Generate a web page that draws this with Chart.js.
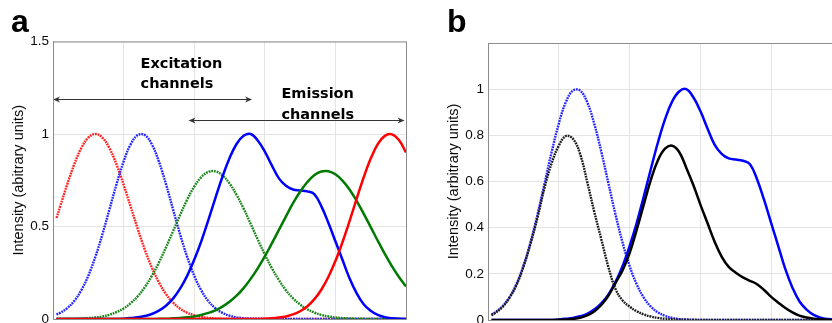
<!DOCTYPE html>
<html>
<head>
<meta charset="utf-8">
<script src="https://cdn.jsdelivr.net/npm/chart.js@4.4.0/dist/chart.umd.min.js"></script>
<style>
html, body { margin: 0; padding: 0; background: #fff; overflow: hidden; width: 832px; height: 323px; }
.panel { position: absolute; top: 0; }
#wrapA { left: 0; }
#wrapB { left: 440px; }
</style>
</head>
<body>
<div id="wrapA" class="panel"><canvas id="chartA" width="416" height="323"></canvas></div>
<div id="wrapB" class="panel"><canvas id="chartB" width="410" height="323"></canvas></div>
<script>
// sample positions along the (unlabelled) x axis
const xs = [0.05, 0.1, 0.2, 0.3, 0.4, 0.5, 0.6, 0.7, 0.8, 0.9, 1.0,
  1.1, 1.2, 1.3, 1.4, 1.5, 1.6, 1.7, 1.8, 1.9, 2.0,
  2.1, 2.2, 2.3, 2.4, 2.5, 2.6, 2.7, 2.8, 2.9, 3.0,
  3.1, 3.2, 3.3, 3.4, 3.5, 3.6, 3.7, 3.8, 3.9, 4.0,
  4.1, 4.2, 4.3, 4.4, 4.5, 4.6, 4.7, 4.8, 4.9, 5.0]

// panel a - excitation (dotted)
const excRed = [0.546, 0.607, 0.726, 0.835, 0.923, 0.980, 1.000, 0.980, 0.923, 0.835, 0.726,
  0.607, 0.487, 0.375, 0.278, 0.198, 0.135, 0.089, 0.056, 0.034, 0.020,
  0.011, 0.006, 0.003, 0.002, 0.001, 0, 0, 0, 0, 0,
  0, 0, 0, 0, 0, 0, 0, 0, 0, 0,
  0, 0, 0, 0, 0, 0, 0, 0, 0, 0]
const excBlue = [0.024, 0.033, 0.058, 0.097, 0.155, 0.234, 0.336, 0.458, 0.593, 0.729, 0.851,
  0.944, 0.994, 0.994, 0.944, 0.851, 0.729, 0.593, 0.458, 0.336, 0.234,
  0.155, 0.097, 0.058, 0.033, 0.018, 0.009, 0.004, 0.002, 0.001, 0,
  0, 0, 0, 0, 0, 0, 0, 0, 0, 0,
  0, 0, 0, 0, 0, 0, 0, 0, 0, 0]
const excGreen = [0, 0, 0.001, 0.001, 0.003, 0.005, 0.008, 0.014, 0.023, 0.037, 0.057,
  0.085, 0.123, 0.172, 0.233, 0.305, 0.387, 0.474, 0.562, 0.645, 0.715,
  0.767, 0.795, 0.798, 0.777, 0.733, 0.671, 0.597, 0.514, 0.430, 0.349,
  0.275, 0.210, 0.155, 0.112, 0.078, 0.053, 0.035, 0.022, 0.014, 0.008,
  0.005, 0.003, 0.002, 0.001, 0, 0, 0, 0, 0, 0]

// panel a - emission (solid)
const emBlue = [0, 0, 0, 0, 0, 0, 0, 0, 0, 0, 0.002,
  0.005, 0.009, 0.016, 0.027, 0.045, 0.072, 0.110, 0.164, 0.233, 0.320,
  0.420, 0.535, 0.654, 0.769, 0.869, 0.946, 0.990, 1.000, 0.965, 0.905,
  0.830, 0.760, 0.720, 0.700, 0.695, 0.690, 0.675, 0.610, 0.520, 0.420,
  0.320, 0.220, 0.140, 0.080, 0.045, 0.022, 0.010, 0.004, 0.001, 0]
const emGreen = [0, 0, 0, 0, 0, 0, 0, 0, 0, 0, 0,
  0, 0, 0, 0, 0.001, 0.002, 0.004, 0.006, 0.009, 0.014,
  0.022, 0.033, 0.047, 0.067, 0.093, 0.126, 0.167, 0.217, 0.274, 0.338,
  0.409, 0.482, 0.555, 0.626, 0.688, 0.739, 0.777, 0.797, 0.799, 0.782,
  0.748, 0.700, 0.639, 0.570, 0.497, 0.423, 0.352, 0.286, 0.227, 0.176]
const emRed = [0, 0, 0, 0, 0, 0, 0, 0, 0, 0, 0,
  0, 0, 0, 0, 0, 0, 0, 0, 0, 0,
  0, 0, 0, 0, 0, 0, 0, 0, 0, 0.002,
  0.004, 0.008, 0.014, 0.025, 0.042, 0.068, 0.106, 0.158, 0.227, 0.313,
  0.415, 0.529, 0.649, 0.765, 0.867, 0.945, 0.990, 0.998, 0.967, 0.900]

// panel b - detected (black), blue curves are the same as panel a
const detExc = [0.020, 0.030, 0.055, 0.095, 0.150, 0.230, 0.330, 0.445, 0.575, 0.680, 0.755,
  0.797, 0.785, 0.720, 0.600, 0.470, 0.350, 0.230, 0.135, 0.085, 0.058,
  0.038, 0.024, 0.015, 0.009, 0.005, 0.003, 0.002, 0.001, 0, 0,
  0, 0, 0, 0, 0, 0, 0, 0, 0, 0,
  0, 0, 0, 0, 0, 0, 0, 0, 0, 0]
const detEm = [0, 0, 0, 0, 0, 0, 0, 0, 0, 0, 0.001,
  0.002, 0.005, 0.010, 0.020, 0.037, 0.065, 0.105, 0.160, 0.215, 0.290,
  0.390, 0.500, 0.607, 0.692, 0.742, 0.755, 0.728, 0.660, 0.585, 0.500,
  0.420, 0.340, 0.275, 0.230, 0.205, 0.185, 0.170, 0.155, 0.130, 0.100,
  0.075, 0.052, 0.033, 0.019, 0.011, 0.006, 0.003, 0.001, 0, 0]

const yTicksA = [0, 0.5, 1, 1.5]
const yTicksB = [0, 0.2, 0.4, 0.6, 0.8, 1]

// arrows + labels on panel a, in data units
const arrows = [
  { from: 0, to: 2.82, y: 1.19 },
  { from: 1.92, to: 4.98, y: 1.076 }
]
const notes = [
  { x: 1.24, y: 1.358, lines: ['Excitation', 'channels'] },
  { x: 3.235, y: 1.193, lines: ['Emission', 'channels'] }
]

Chart.defaults.font.family = "'Liberation Sans', Arial, sans-serif"
Chart.defaults.color = '#0a0a0a'

const GRID = '#e4e4e4'
const FRAME = '#8c8c8c'

function fmt(v) {
  return String(Math.round(v * 10) / 10)
}

function curve(ys, color, dotted) {
  return {
    data: xs.map((x, i) => ({ x: x, y: ys[i] })),
    borderColor: color,
    borderWidth: dotted ? 2.4 : 2.5,
    borderDash: dotted ? [1.8, 0.9] : [],
    pointRadius: 0,
    tension: 0.4,
    fill: false
  }
}

function scales(yMax, step, tickList, title) {
  return {
    x: {
      type: 'linear', min: 0, max: 5,
      ticks: { display: false, stepSize: 1 },
      grid: { color: GRID, drawTicks: false },
      border: { color: FRAME },
      afterFit: s => { s.height = 0; s.paddingLeft = 0; s.paddingRight = 0 }
    },
    y: {
      min: 0, max: yMax,
      ticks: {
        stepSize: step, padding: 4, font: { size: 13.5 },
        callback: v => tickList.some(t => Math.abs(t - v) < 1e-6) ? fmt(v) : ''
      },
      grid: { color: GRID, drawTicks: false },
      border: { color: FRAME },
      title: { display: true, text: title, font: { size: 14.5 }, padding: { top: 4, bottom: 0 } },
      afterFit: s => { s.width = 47; s.paddingTop = 0; s.paddingBottom = 0 }
    }
  }
}

// box around plot + panel letter
function framePlugin(letter, lx) {
  return {
    id: 'frame' + letter,
    afterDraw(chart) {
      const { ctx, chartArea: a } = chart
      ctx.save()
      ctx.strokeStyle = FRAME
      ctx.lineWidth = 1
      ctx.strokeRect(a.left + 0.5, a.top + 0.5, a.right - a.left, a.bottom - a.top)
      ctx.fillStyle = '#000'
      ctx.font = "bold 32px 'Liberation Sans', Arial, sans-serif"
      ctx.textBaseline = 'alphabetic'
      ctx.fillText(letter, lx, 32)
      ctx.restore()
    }
  }
}

function arrowHead(ctx, x, y, dir) {
  ctx.beginPath()
  ctx.moveTo(x, y)
  ctx.lineTo(x - dir * 7, y - 3)
  ctx.lineTo(x - dir * 5, y)
  ctx.lineTo(x - dir * 7, y + 3)
  ctx.closePath()
  ctx.fill()
}

const notesPlugin = {
  id: 'notes',
  afterDatasetsDraw(chart) {
    const { ctx, scales: { x, y } } = chart
    ctx.save()
    ctx.strokeStyle = '#333'
    ctx.fillStyle = '#333'
    ctx.lineWidth = 1
    arrows.forEach(a => {
      const x1 = x.getPixelForValue(a.from)
      const x2 = x.getPixelForValue(a.to)
      const py = Math.round(y.getPixelForValue(a.y)) + 0.5
      ctx.beginPath()
      ctx.moveTo(x1 + 2, py)
      ctx.lineTo(x2 - 2, py)
      ctx.stroke()
      arrowHead(ctx, x1, py, -1)
      arrowHead(ctx, x2, py, 1)
    })
    ctx.fillStyle = '#000'
    ctx.font = "bold 14.5px 'DejaVu Sans', sans-serif"
    notes.forEach(n => {
      const px = x.getPixelForValue(n.x)
      const py = y.getPixelForValue(n.y)
      n.lines.forEach((t, i) => ctx.fillText(t, px, py + i * 20.5))
    })
    ctx.restore()
  }
}

new Chart(document.getElementById('chartA'), {
  type: 'line',
  data: {
    datasets: [
      curve(emRed, '#ff0000', false),
      curve(emGreen, '#007a00', false),
      curve(emBlue, '#0000ff', false),
      curve(excGreen, '#1a861a', true),
      curve(excBlue, '#2424ff', true),
      curve(excRed, '#ff2020', true)
    ]
  },
  options: {
    responsive: false,
    animation: false,
    layout: { padding: { left: 6, right: 10, top: 41.5, bottom: 4 } },
    plugins: { legend: { display: false }, tooltip: { enabled: false } },
    scales: scales(1.5, 0.5, yTicksA, 'Intensity (abitrary units)')
  },
  plugins: [notesPlugin, framePlugin('a', 11)]
})

new Chart(document.getElementById('chartB'), {
  type: 'line',
  data: {
    datasets: [
      curve(detEm, '#000000', false),
      curve(emBlue, '#0000ff', false),
      curve(detExc, '#1a1a1a', true),
      curve(excBlue, '#2424ff', true)
    ]
  },
  options: {
    responsive: false,
    animation: false,
    layout: { padding: { left: 1, right: 8, top: 43, bottom: 3 } },
    plugins: { legend: { display: false }, tooltip: { enabled: false } },
    scales: scales(1.2, 0.2, yTicksB, 'Intensity (arbitrary units)')
  },
  plugins: [framePlugin('b', 7)]
})
</script>
</body>
</html>
